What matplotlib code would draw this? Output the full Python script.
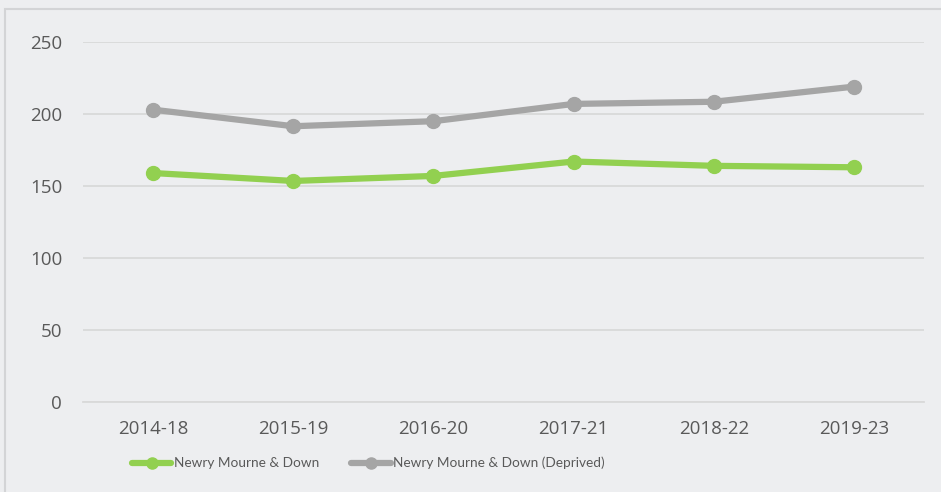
import matplotlib.pyplot as plt
from matplotlib.patches import Rectangle

periods = ["2014-18", "2015-19", "2016-20", "2017-21", "2018-22", "2019-23"]
nmd = [159, 153.5, 157, 167, 164, 163]
nmd_deprived = [203, 191.5, 195, 207, 208.5, 219]
yticks = [0, 50, 100, 150, 200, 250]

bg = "#EDEEF0"
txt = "#595959"
plt.rcParams["font.family"] = ["Open Sans", "DejaVu Sans"]

fig = plt.figure(figsize=(9.41, 4.92), dpi=100, facecolor=bg)
# outer frame of the chart box
fig.patches.append(Rectangle((4.5 / 941, -0.1), 1.1, (492 - 9) / 492 + 0.1, transform=fig.transFigure,
                             facecolor="none", edgecolor="#D3D4D6", linewidth=1.5))
ax = fig.add_axes([83 / 941, 90 / 492, 841 / 941, 360 / 492])
ax.set_facecolor(bg)

x = range(len(periods))
ax.plot(x, nmd, color="#92D050", linewidth=4.5, marker="o", markersize=10,
        label="Newry Mourne & Down", solid_capstyle="round")
ax.plot(x, nmd_deprived, color="#A5A5A5", linewidth=4.5, marker="o", markersize=10,
        label="Newry Mourne & Down (Deprived)", solid_capstyle="round")

ax.set_xlim(-0.5, len(periods) - 0.5)
ax.set_ylim(0, 250)
ax.set_yticks(yticks)
ax.set_xticks(list(x))
ax.set_xticklabels(periods)
ax.yaxis.grid(True, color="#D9D9D9", linewidth=1.3)
ax.set_axisbelow(True)
for s in ["top", "right", "left"]:
    ax.spines[s].set_visible(False)
ax.spines["bottom"].set_color("#D9D9D9")
ax.spines["bottom"].set_linewidth(1.3)
ax.tick_params(length=0, labelsize=13.5, colors=txt)
ax.tick_params(axis="x", pad=13)
ax.tick_params(axis="y", pad=15)

# Excel places the legend left of centre
leg = ax.legend(loc="center left", bbox_to_anchor=(49 / 841, -0.17), ncol=2, frameon=False,
                prop={"family": ["Lato", "DejaVu Sans"], "size": 9.8},
                handlelength=2.9, handletextpad=0.15, columnspacing=2.4,
                markerscale=0.8, borderpad=0, borderaxespad=0)
for t in leg.get_texts():
    t.set_color(txt)

fig.savefig("out.png", dpi=100, facecolor=bg)
